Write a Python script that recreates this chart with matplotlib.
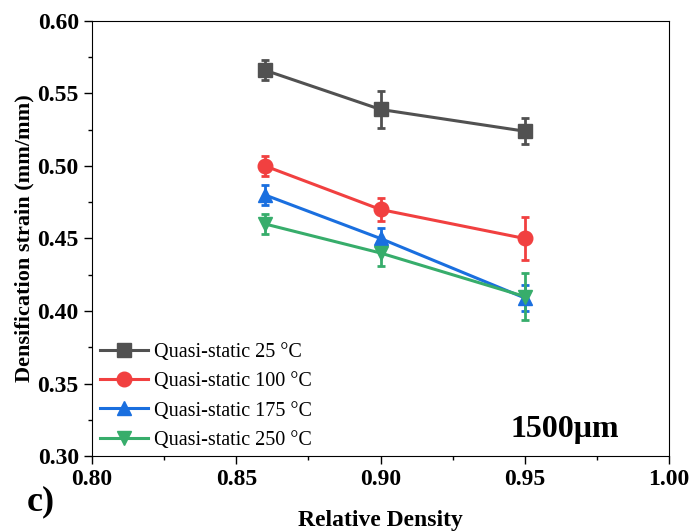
import matplotlib.pyplot as plt
from matplotlib.ticker import MultipleLocator

# Data
density = [0.86, 0.90, 0.95]
labels = ['Quasi-static 25 °C', 'Quasi-static 100 °C',
          'Quasi-static 175 °C', 'Quasi-static 250 °C']
strain_25 = [0.566, 0.539, 0.524]
err_25 = [0.007, 0.013, 0.009]
strain_100 = [0.500, 0.470, 0.450]
err_100 = [0.007, 0.008, 0.015]
strain_175 = [0.480, 0.450, 0.409]
err_175 = [0.007, 0.007, 0.009]
strain_250 = [0.460, 0.440, 0.410]
err_250 = [0.007, 0.009, 0.016]

colors = ['#515151', '#F14040', '#1A6FDF', '#37AD6B']
markers = ['s', 'o', '^', 'v']

plt.rcParams['font.family'] = ['Liberation Serif', 'DejaVu Serif']

fig = plt.figure(figsize=(6.95, 5.31), dpi=100)
ax = fig.add_axes([0.1324, 0.1412, 0.8302, 0.8193])

series = [(strain_25, err_25), (strain_100, err_100),
          (strain_175, err_175), (strain_250, err_250)]
handles = []
for (vals, errs), lab, c, m in zip(series, labels, colors, markers):
    cont = ax.errorbar(density, vals, yerr=errs, color=c, marker=m, markersize=10.5,
                       linewidth=2.2, elinewidth=2, capsize=3, capthick=2)
    line = cont.lines[0]
    line.set_label(lab)
    handles.append(line)

ax.set_xlim(0.80, 1.00)
ax.set_ylim(0.30, 0.60)
ax.xaxis.set_major_locator(MultipleLocator(0.05))
ax.xaxis.set_minor_locator(MultipleLocator(0.025))
ax.yaxis.set_major_locator(MultipleLocator(0.05))
ax.yaxis.set_minor_locator(MultipleLocator(0.025))
ax.tick_params(which='both', direction='out', top=False, right=False, width=1)
ax.tick_params(which='major', length=6, labelsize=17)
ax.tick_params(which='minor', length=3)
ax.xaxis.set_major_formatter(plt.FuncFormatter(lambda v, p: f'{v:.2f}'))
ax.yaxis.set_major_formatter(plt.FuncFormatter(lambda v, p: f'{v:.2f}'))
for t in ax.get_xticklabels() + ax.get_yticklabels():
    t.set_fontweight('bold')

ax.set_xlabel('Relative Density', fontsize=17, fontweight='bold', labelpad=14)
ax.set_ylabel('Densification strain (mm/mm)', fontsize=16, fontweight='bold', labelpad=2)

ax.legend(handles=handles, loc='lower left', frameon=False, fontsize=14.5,
          handlelength=2.4, handletextpad=0.3, labelspacing=0.5,
          borderaxespad=0.0, bbox_to_anchor=(0.0, -0.004))

ax.text(0.913, 0.06, '1500μm', transform=ax.transAxes, ha='right', va='center',
        fontsize=23, fontweight='bold')
fig.text(0.038, 0.055, 'c)', fontsize=26, fontweight='bold', ha='left', va='center')

fig.savefig('out.png', dpi=100)
